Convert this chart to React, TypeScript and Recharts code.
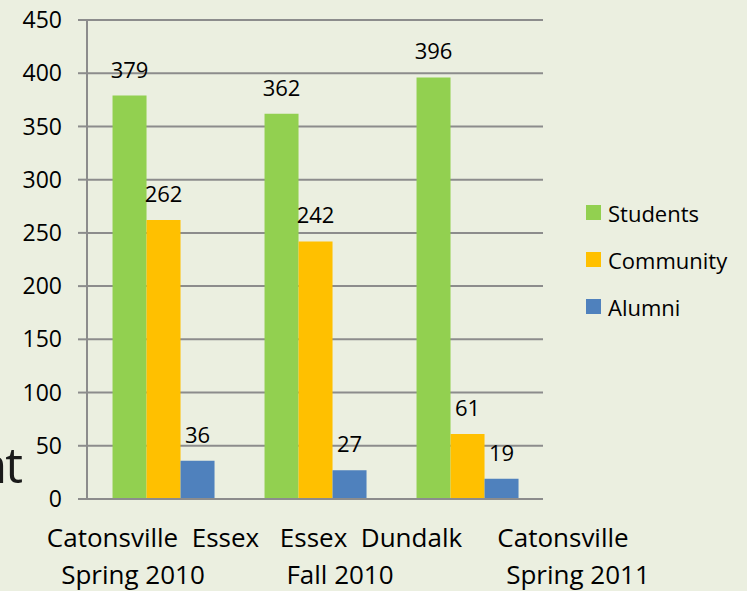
import { BarChart, Bar, XAxis, YAxis, CartesianGrid, LabelList, Legend } from 'recharts';

// Event attendance by campus / term
const campuses = ['Catonsville  Essex', 'Essex  Dundalk', 'Catonsville'];
const terms = ['Spring 2010', 'Fall 2010', 'Spring 2011'];
const students = [379, 362, 396];
const community = [262, 242, 61];
const alumni = [36, 27, 19];
const yTicks = [0, 50, 100, 150, 200, 250, 300, 350, 400, 450];

const seriesNames = ['Students', 'Community', 'Alumni'];
const seriesKeys = ['students', 'community', 'alumni'];
const seriesColors = ['#92D050', '#FFC000', '#4F81BD'];

const data = campuses.map((campus, i) => ({
    campus,
    term: terms[i],
    students: students[i],
    community: community[i],
    alumni: alumni[i],
}));

const FONT = '"Open Sans", "Noto Sans", sans-serif';
const GRID = '#8C8C8C';

// the category labels in the original are not centred under their groups
const line1Dx = [-10, 56, 96];
const line2Dx = [-30, 25, 111];

function CategoryTick(props: any) {
    const { x, y, payload, index } = props;
    const textStyle = { whiteSpace: 'pre' as const };
    return (
        <g>
            <text x={x + line1Dx[index]} y={y} dy={48} textAnchor="middle" fill="#000" fontSize={26} fontFamily={FONT} style={textStyle}>
                {campuses[index]}
            </text>
            <text x={x + line2Dx[index]} y={y} dy={85} textAnchor="middle" fill="#000" fontSize={26} fontFamily={FONT} style={textStyle}>
                {terms[index] ?? payload.value}
            </text>
        </g>
    );
}

function LegendBox() {
    return (
        <div style={{ fontFamily: FONT }}>
            {seriesNames.map((name, i) => (
                <div key={name} style={{ display: 'flex', alignItems: 'center', height: 47 }}>
                    <span style={{ width: 15, height: 15, background: seriesColors[i], marginRight: 7 }} />
                    <span style={{ fontSize: 22, color: '#000' }}>{name}</span>
                </div>
            ))}
        </div>
    );
}

export default function App() {
    return (
        <div style={{ position: 'absolute', left: 0, top: 0, width: 747, height: 591, background: '#EBEFE0', overflow: 'hidden' }}>
            {/* leftover slide text cut off by the chart's edge */}
            <div style={{ position: 'absolute', left: -80, top: 439, width: 101, textAlign: 'right', fontSize: 50, letterSpacing: -2, lineHeight: 1, fontFamily: FONT, color: '#1a1a1a' }}>
                nt
            </div>
            <BarChart
                width={747}
                height={591}
                data={data}
                margin={{ top: 20, right: 204, bottom: 12, left: 0 }}
                barGap={0}
                barCategoryGap="16.8%"
            >
                <CartesianGrid vertical={false} stroke={GRID} strokeWidth={2} />
                <XAxis
                    dataKey="campus"
                    axisLine={{ stroke: GRID, strokeWidth: 2 }}
                    tickLine={false}
                    tickSize={0}
                    tickMargin={0}
                    height={80}
                    interval={0}
                    tick={<CategoryTick />}
                />
                <YAxis
                    domain={[0, 450]}
                    ticks={yTicks}
                    width={87}
                    axisLine={{ stroke: GRID, strokeWidth: 2 }}
                    tickLine={{ stroke: GRID, strokeWidth: 2 }}
                    tickSize={9}
                    tickMargin={16}
                    tick={{ fill: '#000', fontSize: 23, fontFamily: FONT }}
                />
                <Legend
                    layout="vertical"
                    align="center"
                    verticalAlign="middle"
                    wrapperStyle={{ left: 586, top: 189, width: 160 }}
                    content={<LegendBox />}
                />
                {seriesKeys.map((key, i) => (
                    <Bar key={key} dataKey={key} name={seriesNames[i]} fill={seriesColors[i]} isAnimationActive={false}>
                        <LabelList dataKey={key} position="top" offset={18} fill="#000" fontSize={22} fontFamily={FONT} />
                    </Bar>
                ))}
            </BarChart>
        </div>
    );
}
